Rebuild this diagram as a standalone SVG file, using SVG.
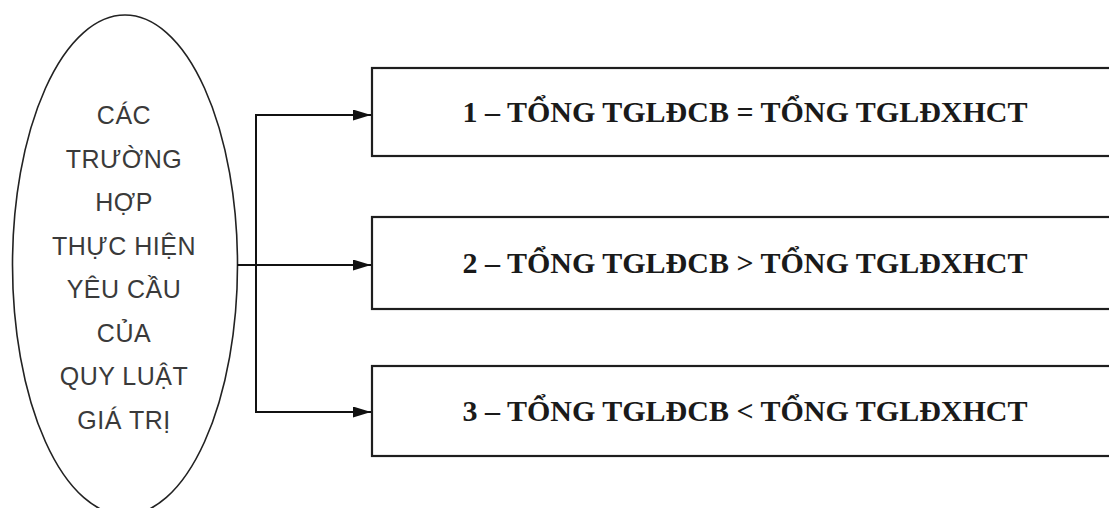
<svg xmlns="http://www.w3.org/2000/svg" width="1109" height="508" viewBox="0 0 1109 508">
<style>
.bg{fill:#ffffff}
.box{fill:#ffffff;stroke:#1e1e1e;stroke-width:2.2}
.ell{fill:#ffffff;stroke:#222;stroke-width:1.6}
.lt{font-family:"Liberation Sans",Arial,sans-serif;font-size:25px;letter-spacing:0.5px;fill:#3a3a3a;text-anchor:middle}
.bt{font-family:"Liberation Serif","Times New Roman",serif;font-size:30px;font-weight:bold;fill:#1a1a1a;text-anchor:middle}
.con{fill:none;stroke:#111;stroke-width:2}
</style>
<defs>
<marker id="arr" viewBox="0 0 18 11" refX="18" refY="5.5" markerWidth="18" markerHeight="11" markerUnits="userSpaceOnUse" orient="auto">
<path d="M0,0 L18,5.5 L0,11 Z" fill="#111"/>
</marker>
</defs>
<rect class="bg" x="0" y="0" width="1109" height="508"/>
<g id="node-ellipse">
<ellipse class="ell" cx="125" cy="265" rx="112.5" ry="250"/>
<text class="lt" x="124" y="124">CÁC</text>
<text class="lt" x="124" y="167.5">TRƯỜNG</text>
<text class="lt" x="124" y="211">HỢP</text>
<text class="lt" x="124" y="254.5">THỰC HIỆN</text>
<text class="lt" x="124" y="298">YÊU CẦU</text>
<text class="lt" x="124" y="341.5">CỦA</text>
<text class="lt" x="124" y="385">QUY LUẬT</text>
<text class="lt" x="124" y="428.5">GIÁ TRỊ</text>
</g>
<g id="node-1">
<rect class="box" x="372" y="68" width="745" height="88"/>
<text class="bt" x="745" y="122">1 – TỔNG TGLĐCB = TỔNG TGLĐXHCT</text>
</g>
<g id="node-2">
<rect class="box" x="372" y="217" width="745" height="92"/>
<text class="bt" x="745" y="273">2 – TỔNG TGLĐCB &gt; TỔNG TGLĐXHCT</text>
</g>
<g id="node-3">
<rect class="box" x="372" y="366" width="745" height="90"/>
<text class="bt" x="745" y="421">3 – TỔNG TGLĐCB &lt; TỔNG TGLĐXHCT</text>
</g>
<g id="connectors">
<path class="con" d="M256,412 L256,115 L371,115" marker-end="url(#arr)"/>
<path class="con" d="M237,265 L371,265" marker-end="url(#arr)"/>
<path class="con" d="M256,410 L256,412 L371,412" marker-end="url(#arr)"/>
</g>
</svg>
